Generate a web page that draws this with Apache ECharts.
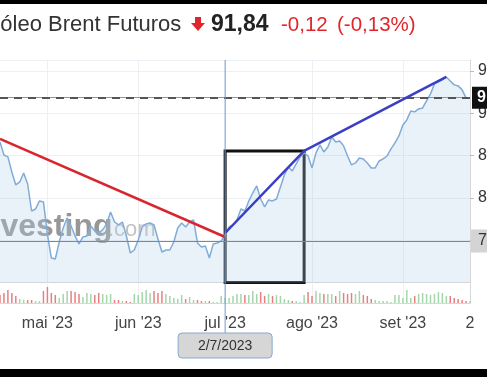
<!DOCTYPE html>
<html><head><meta charset="utf-8">
<script src="https://cdn.jsdelivr.net/npm/echarts@6.0.0/dist/echarts.min.js"></script>
<style>html,body{margin:0;padding:0;background:#fff}#c{width:487px;height:377px}</style>
</head><body><div id="c"></div>
<script>
// ---- DATA ----
const dates = [
 '13/4/2023','14/4/2023','17/4/2023','18/4/2023','19/4/2023','20/4/2023','21/4/2023','24/4/2023','25/4/2023','26/4/2023','27/4/2023','28/4/2023',
 '1/5/2023','2/5/2023','3/5/2023','4/5/2023','5/5/2023','8/5/2023','9/5/2023','10/5/2023','11/5/2023','12/5/2023','15/5/2023','16/5/2023','17/5/2023','18/5/2023','19/5/2023','22/5/2023','23/5/2023','24/5/2023','25/5/2023','26/5/2023','29/5/2023','30/5/2023','31/5/2023',
 '1/6/2023','2/6/2023','5/6/2023','6/6/2023','7/6/2023','8/6/2023','9/6/2023','12/6/2023','13/6/2023','14/6/2023','15/6/2023','16/6/2023','19/6/2023','20/6/2023','21/6/2023','22/6/2023','23/6/2023','26/6/2023','27/6/2023','28/6/2023','29/6/2023','30/6/2023',
 '2/7/2023','3/7/2023','4/7/2023','5/7/2023','6/7/2023','7/7/2023','10/7/2023','11/7/2023','12/7/2023','13/7/2023','14/7/2023','17/7/2023','18/7/2023','19/7/2023','20/7/2023','21/7/2023','24/7/2023','25/7/2023','26/7/2023','27/7/2023','28/7/2023','31/7/2023',
 '1/8/2023','2/8/2023','3/8/2023','4/8/2023','7/8/2023','8/8/2023','9/8/2023','10/8/2023','11/8/2023','14/8/2023','15/8/2023','16/8/2023','17/8/2023','18/8/2023','21/8/2023','22/8/2023','23/8/2023','24/8/2023','25/8/2023','28/8/2023','29/8/2023','30/8/2023','31/8/2023',
 '1/9/2023','4/9/2023','5/9/2023','6/9/2023','7/9/2023','8/9/2023','11/9/2023','12/9/2023','13/9/2023','14/9/2023','15/9/2023','18/9/2023','19/9/2023','20/9/2023','21/9/2023','22/9/2023','25/9/2023','26/9/2023'
];
const prices = [
 86.62,85.08,84.85,83.07,81.54,81.89,82.95,81.65,78.46,78.70,79.65,79.53,
 75.74,72.91,72.79,74.80,76.45,77.64,76.69,75.51,74.57,75.39,75.51,76.69,76.10,75.86,76.22,76.93,78.35,77.16,76.81,77.16,75.51,73.50,73.85,
 75.04,76.57,76.93,77.05,76.81,75.15,73.62,73.85,73.85,74.80,76.45,77.05,76.57,77.16,77.40,74.68,74.21,74.33,72.91,74.57,74.68,74.92,
 75.63,76.57,76.81,77.40,78.70,78.46,79.65,80.59,81.42,79.88,78.94,79.76,79.65,79.88,81.30,82.71,83.66,83.19,84.02,84.85,85.32,84.96,
 83.55,85.32,86.26,85.44,86.03,87.21,86.62,86.74,86.15,84.96,83.90,84.14,84.73,84.61,84.14,83.55,83.55,84.37,84.61,84.96,85.79,86.50,87.33,
 88.63,89.22,90.28,90.17,90.52,90.64,91.47,92.29,93.48,93.71,93.95,94.30,93.83,93.36,93.24,92.77,91.82,91.84
];
const volumes = [
 200,250,325,250,175,100,75,75,75,50,50,300,
 400,250,200,125,225,300,300,275,225,150,250,225,200,250,225,200,225,75,75,50,50,25,225,
 200,275,325,250,300,250,300,225,175,125,100,200,100,150,75,75,50,50,50,25,25,175,
 125,125,175,225,225,200,200,300,225,275,175,225,175,200,175,100,75,50,50,25,200,275,
 175,300,250,225,225,225,175,300,250,225,250,225,300,200,175,100,75,50,50,50,25,200,200,
 125,325,125,175,225,250,225,200,225,275,250,175,175,125,100,75,50,50
];
const tickDates  = ['1/5/2023','1/6/2023','2/7/2023','1/8/2023','1/9/2023','26/9/2023'];
const tickLabels = ["mai '23","jun '23","jul '23","ago '23","set '23","2"];
const yTicks = [75, 80, 85, 90, 95];
const redTrendDates = ['13/4/2023','2/7/2023'];
const redTrendValues = [86.97, 75.39];
const blueTrendDates = ['2/7/2023','28/7/2023','18/9/2023'];
const blueTrendValues = [75.86, 85.56, 94.30];
const boxDates = ['2/7/2023','28/7/2023'];
const boxValues = [85.56, 70];
const lastPrice = 91.84;
const changeText = ['-0,12', '(-0,13%)'];
const crossDate = '2/7/2023';
const crossValue = 74.92;
const yMin = 70, yMax = 96.3, yStep = 5;

// ---- CHART ----
const fmt = v => v.toFixed(2).replace('.', ',');
const FONT = '"Liberation Sans", Arial, sans-serif';
const isTick = (i, v) => tickDates.indexOf(v) >= 0;
const volData = volumes.map((v, i) => ({
  value: v,
  itemStyle: { color: (i > 0 && prices[i] >= prices[i-1]) ? '#a3d6aa' : '#e68080' }
}));

const baseGraphic = [
  { type:'rect', shape:{x:0,y:0,width:487,height:4}, style:{fill:'#000'}, z:100 },
  { type:'rect', shape:{x:0,y:369,width:487,height:8}, style:{fill:'#000'}, z:100 },
  { type:'text', z:100, style:{ text:'Petróleo Brent Futuros', x:-40, y:25, verticalAlign:'middle', font:'22px '+FONT, fill:'#333' } },
  { type:'polygon', z:100, shape:{ points:[[195,17],[201,17],[201,23],[205,23],[198,31],[191,23],[195,23]] }, style:{ fill:'#e3242b' } },
  { type:'text', z:100, style:{ text:fmt(lastPrice), x:211, y:25, verticalAlign:'middle', font:'bold 23px '+FONT, fill:'#222' } },
  { type:'text', z:100, style:{ text:changeText[0], x:281, y:25, verticalAlign:'middle', font:'20.5px '+FONT, fill:'#e0262b' } },
  { type:'text', z:100, style:{ text:changeText[1], x:337, y:25, verticalAlign:'middle', font:'20.5px '+FONT, fill:'#e0262b' } },
  { type:'text', z:1, style:{ text:'Investing', x:-28, y:227, verticalAlign:'middle', font:'bold 32px '+FONT, fill:'rgba(125,125,125,0.8)' } },
  { type:'text', z:1, style:{ text:'.com', x:108, y:230, verticalAlign:'middle', font:'22px '+FONT, fill:'rgba(170,170,170,0.7)' } }
];

const option = {
  animation: false,
  backgroundColor: '#fff',
  grid: [
    { left: 0, right: 17, top: 60, bottom: 94.4, containLabel:false, outerBoundsMode:'none' },
    { left: 0, right: 17, top: 284, height: 19, containLabel:false, outerBoundsMode:'none' }
  ],
  xAxis: [
    { gridIndex:0, type:'category', data:dates, boundaryGap:false,
      axisLine:{ lineStyle:{ color:'#d8d8d8' } }, axisTick:{show:false}, axisLabel:{show:false},
      splitLine:{ show:true, interval:isTick, lineStyle:{ color:'#eceff3' } } },
    { gridIndex:1, type:'category', data:dates, boundaryGap:false,
      axisLine:{ lineStyle:{ color:'#d8d8d8' } }, axisTick:{show:false},
      axisLabel:{ interval:isTick, formatter: v => tickLabels[tickDates.indexOf(v)], color:'#444', fontSize:16, fontFamily:FONT, margin:13 },
      splitLine:{ show:true, interval:isTick, lineStyle:{ color:'#eceff3' } } }
  ],
  yAxis: [
    { gridIndex:0, type:'value', position:'right', min:yMin, max:yMax, interval:yStep,
      axisLine:{ show:true, lineStyle:{ color:'#d8d8d8' } },
      axisTick:{ show:true, length:4, lineStyle:{ color:'#bbb' } },
      axisLabel:{ showMinLabel:false, showMaxLabel:false, color:'#333', fontSize:16, fontFamily:FONT, margin:8,
        formatter: v => yTicks.indexOf(v) >= 0 ? fmt(v) : '' },
      splitLine:{ lineStyle:{ color:'#eceff3' } } },
    { gridIndex:1, type:'value', position:'right', min:0, max:475,
      axisLine:{ show:true, lineStyle:{ color:'#d8d8d8' } }, axisTick:{show:false}, axisLabel:{show:false}, splitLine:{show:false} }
  ],
  series: [
    { name:'Preço', type:'line', xAxisIndex:0, yAxisIndex:0, data:prices, showSymbol:false, z:3,
      lineStyle:{ color:'#80acd7', width:1.5 }, areaStyle:{ color:'rgba(176,204,232,0.4)' },
      markLine:{ silent:true, symbol:'none', animation:false,
        data:[
          { yAxis:lastPrice, lineStyle:{ color:'rgba(230,80,80,0.8)', width:1, type:'solid' }, label:{show:false} },
          { yAxis:lastPrice, lineStyle:{ color:'#555', width:2, type:[8,6] },
            label:{ show:true, position:'end', distance:2, formatter:fmt(lastPrice), backgroundColor:'#111', color:'#fff',
              fontWeight:'bold', fontSize:16, fontFamily:FONT, lineHeight:16, padding:[3,4,3,5] } },
          { yAxis:crossValue, lineStyle:{ color:'#5b8fc7', width:1, type:'solid', opacity:1 },
            label:{ show:true, position:'end', distance:1, formatter:fmt(crossValue), backgroundColor:'#d4d4d4', color:'#333',
              fontSize:16, fontFamily:FONT, lineHeight:17, padding:[3,4,3,7] } }
        ] } },
    { name:'Tendência baixa', type:'line', xAxisIndex:0, yAxisIndex:0, z:5,
      data: redTrendDates.map((d, i) => [d, redTrendValues[i]]), showSymbol:false,
      lineStyle:{ color:'#d9262e', width:2.5 } },
    { name:'Tendência alta', type:'line', xAxisIndex:0, yAxisIndex:0, z:5,
      data: blueTrendDates.map((d, i) => [d, blueTrendValues[i]]), showSymbol:false,
      lineStyle:{ color:'#3b3fc6', width:2.5 },
      markArea:{ silent:true, itemStyle:{ color:'rgba(0,0,0,0)', borderColor:'#111', borderWidth:3 },
        data:[[ { coord:[boxDates[0], boxValues[0]] }, { coord:[boxDates[1], boxValues[1]] } ]] } },
    { name:'Volume', type:'bar', xAxisIndex:1, yAxisIndex:1, data:volData, barWidth:1.5 }
  ],
  graphic: baseGraphic
};

const chart = echarts.init(document.getElementById('c'));
chart.setOption(option);
const cx = chart.convertToPixel({ xAxisIndex:0 }, crossDate);
const cTop = chart.convertToPixel({ yAxisIndex:0 }, yMax);
chart.setOption({ graphic: baseGraphic.concat([
  { type:'line', z:50, shape:{ x1:cx, y1:cTop, x2:cx, y2:333 }, style:{ stroke:'#6f9ccc', lineWidth:1 } },
  { type:'rect', z:51, shape:{ x:cx-47, y:333, width:94, height:25, r:4 }, style:{ fill:'#d6d6d6', stroke:'#86a9cf', lineWidth:1 } },
  { type:'text', z:52, style:{ text:crossDate, x:cx, y:346, align:'center', verticalAlign:'middle', font:'14px '+FONT, fill:'#333' } }
]) });
</script>
</body></html>
